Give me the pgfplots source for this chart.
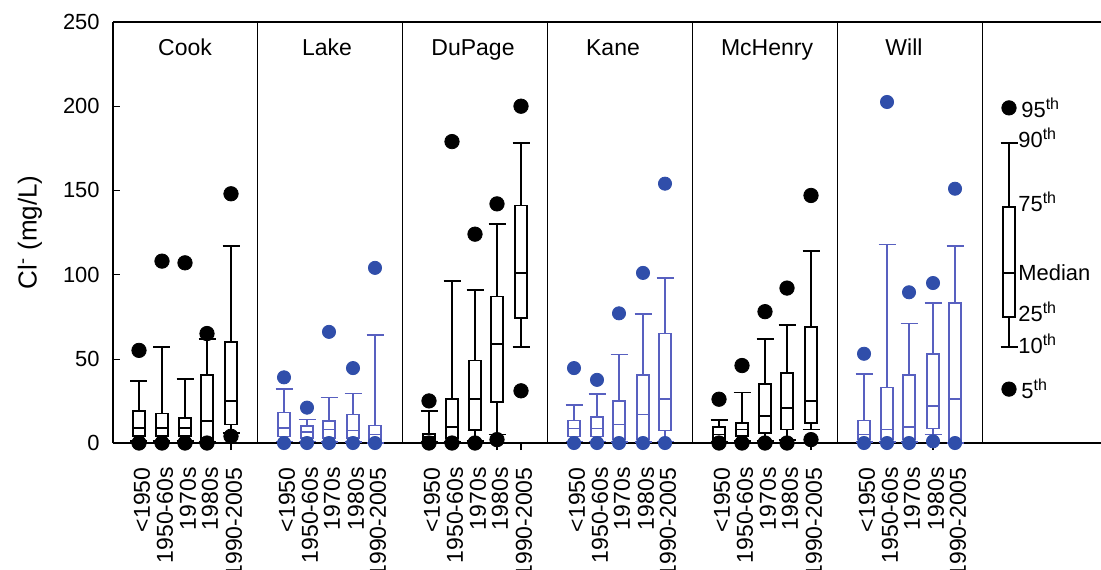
\documentclass[border=0pt,11pt]{standalone}
\usepackage{fontspec}
\setmainfont{Liberation Sans}
\usepackage{pgfplots}
\usepgfplotslibrary{statistics}
\pgfplotsset{compat=1.18}

\definecolor{dotblue}{RGB}{48,78,170}
\definecolor{lineblue}{RGB}{88,96,192}

\pgfplotsset{
    bk/.style={black, line width=0.9pt, solid},
    bl/.style={lineblue, line width=0.75pt, solid},
}
% style, position, lower whisker, lower quartile, median, upper quartile, upper whisker
\newcommand{\bx}[7]{\addplot[#1, boxplot/draw direction=y, boxplot prepared={draw position=#2,
    lower whisker=#3, lower quartile=#4, median=#5, upper quartile=#6, upper whisker=#7,
    box extend=12, whisker extend=17}] coordinates {};}

\begin{document}
\begin{tikzpicture}
\begin{axis}[
    name=ax,
    scale only axis,
    width=494pt, height=210.5pt,
    xmin=113, xmax=1101, ymin=0, ymax=250,
    clip=false,
    axis lines*=left,
    axis line style={line width=0.8pt},
    ytick={0,50,...,250},
    ytick align=inside, major tick length=3.5pt,
    yticklabel style={anchor=east, inner sep=0pt, xshift=-6.5pt},
    xtick align=outside,
    xtick={139,162,185,207,231, 284,307,329,353,375, 429,452,475,497,521,
           574,597,619,643,665, 719,742,765,787,811, 864,887,909,933,955},
    xticklabels={<1950,1950-60s,1970s,1980s,1990-2005,
                 <1950,1950-60s,1970s,1980s,1990-2005,
                 <1950,1950-60s,1970s,1980s,1990-2005,
                 <1950,1950-60s,1970s,1980s,1990-2005,
                 <1950,1950-60s,1970s,1980s,1990-2005,
                 <1950,1950-60s,1970s,1980s,1990-2005},
    x tick style={line width=0.6pt},
    xticklabel style={rotate=90, anchor=east, inner sep=0pt, xshift=-8.5pt, yshift=-1.5pt,
        font=\fontsize{11.5}{13}\selectfont},
    extra x ticks={257.5,402.5,547.5,692.5,837.5,982.5},
    extra x tick labels={},
    extra x tick style={grid=major, major grid style={black, line width=0.7pt}, tick style={draw=none}},
    extra y ticks={250},
    extra y tick labels={},
    extra y tick style={grid=major, major grid style={black, line width=0.8pt}, tick style={draw=none}},
    tick style={black},
    /pgf/number format/assume math mode=true,
    ylabel={Cl\textsuperscript{-} (mg/L)},
    ylabel style={at={(axis description cs:-0.084,0.5)}, anchor=center,
        font=\fontsize{13}{15}\selectfont},
]
% Cook
\bx{bk}{139}{1}{4}{9}{19}{37}
\bx{bk}{162}{1}{4}{9}{17.5}{57}
\bx{bk}{185}{1}{4}{9}{15}{38}
\bx{bk}{207}{0.5}{2}{13}{40.5}{62}
\bx{bk}{231}{6}{11}{25}{60}{117}
% Lake
\bx{bl}{284}{1}{4}{9}{18}{32}
\bx{bl}{307}{1}{3}{6.5}{10}{14}
\bx{bl}{329}{0.5}{3}{8}{13}{27}
\bx{bl}{353}{0.5}{3}{7.5}{17}{29.5}
\bx{bl}{375}{0}{1}{5}{10.5}{64}
% DuPage
\bx{bk}{429}{0.5}{1.5}{3.5}{5.5}{19}
\bx{bk}{452}{0.5}{3}{9.5}{26}{96}
\bx{bk}{475}{1}{7.5}{26}{49}{91}
\bx{bk}{497}{5}{24.5}{59}{87}{130}
\bx{bk}{521}{57}{74}{101}{141}{178}
% Kane
\bx{bl}{574}{1}{4}{8.5}{13.5}{22.5}
\bx{bl}{597}{1}{4}{8.5}{15.5}{29}
\bx{bl}{619}{0.5}{2}{11}{25}{52.5}
\bx{bl}{643}{0.5}{2}{17}{40.5}{76.5}
\bx{bl}{665}{1}{7.5}{26}{65}{98}
% McHenry
\bx{bk}{719}{0.5}{2}{5}{9.5}{13.5}
\bx{bk}{742}{1}{4}{8}{12}{30}
\bx{bk}{765}{1}{6}{16}{35}{62}
\bx{bk}{787}{2}{8}{21}{41.5}{70}
\bx{bk}{811}{8}{12}{25}{69}{114}
% Will
\bx{bl}{864}{0.5}{2}{5}{13.5}{41}
\bx{bl}{887}{0.5}{2}{8}{33}{118}
\bx{bl}{909}{0.5}{2}{9.5}{40.5}{71}
\bx{bl}{933}{5}{8.5}{22}{53}{83}
\bx{bl}{955}{0}{1}{26}{83}{117}
% key
\bx{bk}{1009}{57}{75}{101}{140}{178}

% 5th and 95th percentiles
\addplot[only marks, mark=*, mark size=3.6pt, black] coordinates {
    (139,0) (139,55) (162,0) (162,108) (185,0) (185,107) (207,0) (207,65) (231,4) (231,148)
    (429,0) (429,25) (452,0) (452,179) (475,0) (475,124) (497,2) (497,142) (521,31) (521,200)
    (719,0) (719,26) (742,0) (742,46) (765,0) (765,78) (787,0) (787,92) (811,2) (811,147)
    (1009,32) (1009,199)
};
\addplot[only marks, mark=*, mark size=3.3pt, dotblue] coordinates {
    (284,0) (284,39) (307,0) (307,21) (329,0) (329,66) (353,0) (353,44.5) (375,0) (375,104)
    (574,0) (574,44.5) (597,0) (597,37.5) (619,0) (619,77) (643,0) (643,101) (665,0) (665,154)
    (864,0) (864,53) (887,0) (887,202.5) (909,0) (909,89.5) (933,1) (933,95) (955,0) (955,151)
};

% county names
\begin{scope}[every node/.style={anchor=base, font=\fontsize{11.5}{13}\selectfont}]
\node at (axis cs:185,230) {Cook};
\node at (axis cs:327,230) {Lake};
\node at (axis cs:473,230) {DuPage};
\node at (axis cs:613,230) {Kane};
\node at (axis cs:767,230) {McHenry};
\node at (axis cs:904,230) {Will};
\end{scope}

% key labels
\node[anchor=west, inner sep=0pt] at (axis cs:1021,199) {95\textsuperscript{th}};
\node[anchor=west, inner sep=0pt] at (axis cs:1018,181) {90\textsuperscript{th}};
\node[anchor=west, inner sep=0pt] at (axis cs:1018,143) {75\textsuperscript{th}};
\node[anchor=west, inner sep=0pt] at (axis cs:1018,101) {Median};
\node[anchor=west, inner sep=0pt] at (axis cs:1018,78) {25\textsuperscript{th}};
\node[anchor=west, inner sep=0pt] at (axis cs:1018,59) {10\textsuperscript{th}};
\node[anchor=west, inner sep=0pt] at (axis cs:1021,32) {5\textsuperscript{th}};
\end{axis}
\pgfresetboundingbox
\path ([shift={(-56.5pt,-63pt)}]ax.south west) rectangle ([shift={(0pt,11pt)}]ax.north east);
\end{tikzpicture}
\end{document}
